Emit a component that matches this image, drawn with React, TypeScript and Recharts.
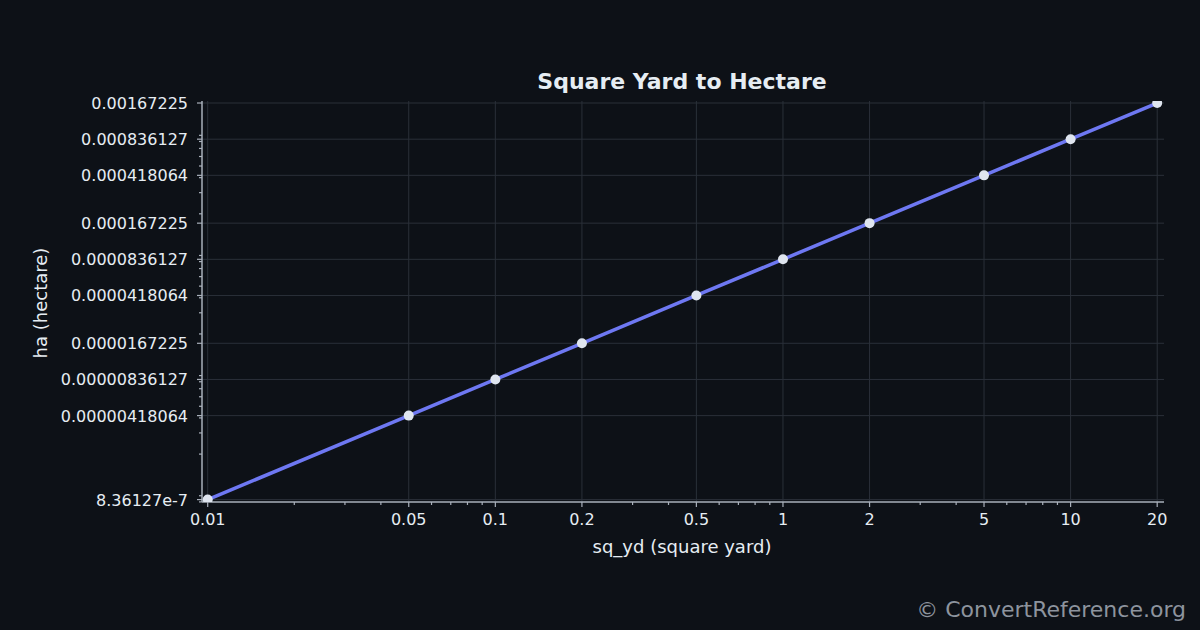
import React from 'react';
import { LineChart, Line, XAxis, YAxis, CartesianGrid } from 'recharts';

const sqYd = [0.01, 0.05, 0.1, 0.2, 0.5, 1, 2, 5, 10, 20];
const hectare = [
  8.36127e-7, 0.00000418064, 0.00000836127, 0.0000167225, 0.0000418064,
  0.0000836127, 0.000167225, 0.000418064, 0.000836127, 0.00167225,
];

const xMajorTicks = [0.01, 0.05, 0.1, 0.2, 0.5, 1, 2, 5, 10, 20];
const xMajorLabels = ['0.01', '0.05', '0.1', '0.2', '0.5', '1', '2', '5', '10', '20'];
const xMinorTicks = [
  0.02, 0.03, 0.04, 0.06, 0.07, 0.08, 0.09, 0.3, 0.4, 0.6, 0.7, 0.8, 0.9,
  3, 4, 6, 7, 8, 9,
];

const yMajorTicks = [
  8.36127e-7, 0.00000418064, 0.00000836127, 0.0000167225, 0.0000418064,
  0.0000836127, 0.000167225, 0.000418064, 0.000836127, 0.00167225,
];
const yMajorLabels = [
  '8.36127e-7', '0.00000418064', '0.00000836127', '0.0000167225', '0.0000418064',
  '0.0000836127', '0.000167225', '0.000418064', '0.000836127', '0.00167225',
];
const yMinorTicks = [
  8e-7, 9e-7,
  2e-6, 3e-6, 4e-6, 5e-6, 6e-6, 7e-6, 8e-6, 9e-6,
  2e-5, 3e-5, 4e-5, 5e-5, 6e-5, 7e-5, 8e-5, 9e-5,
  2e-4, 3e-4, 4e-4, 5e-4, 6e-4, 7e-4, 8e-4, 9e-4,
];

const data = sqYd.map((x, i) => ({ x, y: hectare[i] }));

const BG = '#0d1117';
const AXIS = '#a9b0bb';
const GRID = '#2a3039';
const TEXT = '#e6edf3';
const FONT = 'DejaVu Sans, sans-serif';

const XTick = (props: any) => {
  const { x, y, payload } = props;
  const idx = xMajorTicks.indexOf(payload.value);
  const major = idx >= 0;
  return (
    <g>
      <line x1={x} x2={x} y1={y} y2={y + (major ? 5 : 3)} stroke={AXIS} strokeWidth={1.2} />
      {major && (
        <text x={x} y={y + 22.5} textAnchor="middle" fill={TEXT} fontSize={16} fontFamily={FONT}>
          {xMajorLabels[idx]}
        </text>
      )}
    </g>
  );
};

const YTick = (props: any) => {
  const { x, y, payload } = props;
  const idx = yMajorTicks.indexOf(payload.value);
  const major = idx >= 0;
  return (
    <g>
      <line x1={x - (major ? 5 : 3)} x2={x} y1={y} y2={y} stroke={AXIS} strokeWidth={1.2} />
      {major && (
        <text x={x - 14} y={y + 6} textAnchor="end" fill={TEXT} fontSize={16} fontFamily={FONT}>
          {yMajorLabels[idx]}
        </text>
      )}
    </g>
  );
};

export default function App() {
  return (
    <div style={{ position: 'fixed', left: 0, top: 0, width: 1200, height: 630, background: BG, fontFamily: FONT }}>
      <LineChart
        width={1200}
        height={630}
        data={data}
        margin={{ top: 101, right: 36, bottom: 68, left: 12 }}
      >
        <CartesianGrid
          stroke={GRID}
          strokeWidth={1}
          horizontalValues={yMajorTicks}
          verticalValues={xMajorTicks}
        />
        <XAxis
          dataKey="x"
          type="number"
          scale="log"
          domain={[0.009554, 21.12]}
          ticks={[...xMajorTicks, ...xMinorTicks]}
          interval={0}
          height={60}
          tickSize={0}
          tickMargin={0}
          tick={<XTick />}
          stroke={AXIS}
          strokeWidth={1.5}
          allowDataOverflow
        />
        <YAxis
          dataKey="y"
          type="number"
          scale="log"
          domain={[7.985e-7, 0.001738]}
          ticks={[...yMajorTicks, ...yMinorTicks]}
          interval={0}
          width={190}
          tickSize={0}
          tickMargin={0}
          tick={<YTick />}
          stroke={AXIS}
          strokeWidth={1.5}
          allowDataOverflow
        />
        <Line
          dataKey="y"
          stroke="#6e78f2"
          strokeWidth={3.5}
          dot={{ r: 5, fill: '#dfe5ef', stroke: 'none' }}
          isAnimationActive={false}
        />
        <text x={682} y={89} textAnchor="middle" fill={TEXT} fontSize={22} fontWeight="bold" fontFamily={FONT}>
          Square Yard to Hectare
        </text>
        <text x={682} y={553} textAnchor="middle" fill={TEXT} fontSize={18} fontFamily={FONT}>
          sq_yd (square yard)
        </text>
        <text
          x={47}
          y={303}
          textAnchor="middle"
          fill={TEXT}
          fontSize={18}
          fontFamily={FONT}
          transform="rotate(-90 47 303)"
        >
          ha (hectare)
        </text>
        <text x={1186} y={617} textAnchor="end" fill="#8d949e" fontSize={22} fontFamily={FONT}>
          © ConvertReference.org
        </text>
      </LineChart>
    </div>
  );
}
